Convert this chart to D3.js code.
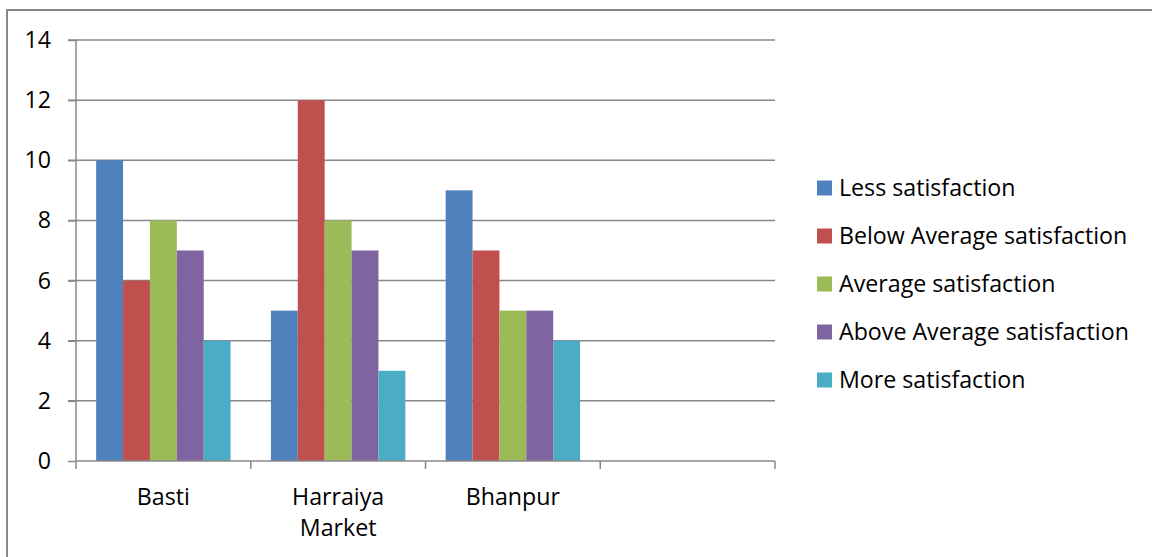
<html lang="en">
  <head>
    <meta charset="UTF-8">
    <title>Satisfaction by market</title>
    <script src="https://d3js.org/d3.v7.min.js"></script>
    <style>
body, html {
  margin: 0;
  padding: 0;
  width: 100%;
  height: 100%;
  overflow: hidden;
  background: white;
}
    svg {
      display: block;
      font-family: "Open Sans", sans-serif;
    }
    </style>
  </head>
  <body>
    <svg width="1152" height="557"></svg>

    <script>
      // categories, the 4th slot is empty in the original
      const categories = ["Basti", "Harraiya Market", "Bhanpur", ""];
      const series = [
        "Less satisfaction",
        "Below Average satisfaction",
        "Average satisfaction",
        "Above Average satisfaction",
        "More satisfaction"
      ];
      const colors = ["#4F81BD", "#C0504D", "#9BBB59", "#8064A2", "#4BACC6"];
      const lessVals = [10, 5, 9];
      const belowAvgVals = [6, 12, 7];
      const avgVals = [8, 8, 5];
      const aboveAvgVals = [7, 7, 5];
      const moreVals = [4, 3, 4];
      const yTicks = [0, 2, 4, 6, 8, 10, 12, 14];

      const allVals = [lessVals, belowAvgVals, avgVals, aboveAvgVals, moreVals];
      const rows = categories.slice(0, 3).flatMap((c, i) =>
        series.map((s, j) => ({ cat: c, series: s, value: allVals[j][i], color: colors[j] }))
      );

      const svg = d3.select("svg");
      const fontSize = 23.2;
      const gridColor = "#888";

      // outer frame
      svg.append("rect")
        .attr("x", 7).attr("y", 10)
        .attr("width", 1300).attr("height", 700)
        .attr("fill", "none")
        .attr("stroke", gridColor)
        .attr("stroke-width", 2);

      const plotL = 76, plotR = 775, plotT = 40, plotB = 461;

      const x0 = d3.scaleBand().domain(categories).range([plotL, plotR]);
      const x1 = d3.scaleBand().domain(series).range([0, x0.bandwidth()]).paddingOuter(0.75);
      const y = d3.scaleLinear().domain([0, 14]).range([plotB, plotT]);

      // gridlines
      svg.append("g")
        .selectAll("line")
        .data(yTicks.filter(d => d > 0))
        .join("line")
        .attr("x1", plotL - 8).attr("x2", plotR)
        .attr("y1", d => y(d)).attr("y2", d => y(d))
        .attr("stroke", gridColor)
        .attr("stroke-width", 1.5);

      // bars
      svg.append("g")
        .selectAll("rect")
        .data(rows)
        .join("rect")
        .attr("x", d => x0(d.cat) + x1(d.series))
        .attr("width", x1.bandwidth())
        .attr("y", d => y(d.value))
        .attr("height", d => y(0) - y(d.value))
        .attr("fill", d => d.color);

      // y axis
      const yAxis = svg.append("g")
        .attr("transform", `translate(${plotL},0)`)
        .call(d3.axisLeft(y).tickValues(yTicks).tickSize(8).tickPadding(17));
      yAxis.attr("font-family", null).attr("font-size", null);
      yAxis.select(".domain").attr("stroke", gridColor).attr("stroke-width", 1.5).attr("d", `M0,${plotT}V${plotB}`);
      yAxis.selectAll(".tick line").attr("stroke", gridColor).attr("stroke-width", 1.5);
      yAxis.selectAll("text").attr("font-size", fontSize).attr("fill", "#000");

      // x axis
      const xAxis = svg.append("g")
        .attr("transform", `translate(0,${plotB})`)
        .call(d3.axisBottom(x0).tickSize(0).tickFormat(""));
      xAxis.select(".domain").attr("stroke", gridColor).attr("stroke-width", 1.5).attr("d", `M${plotL},0H${plotR}`);
      xAxis.selectAll(".tick").remove();

      // boundary ticks between categories
      const bounds = categories.map(c => x0(c)).concat([plotR]);
      xAxis.append("g")
        .selectAll("line")
        .data(bounds)
        .join("line")
        .attr("x1", d => d).attr("x2", d => d)
        .attr("y1", 0).attr("y2", 8)
        .attr("stroke", gridColor)
        .attr("stroke-width", 1.5);

      // category labels (wrap two-word names like Excel)
      const labels = svg.append("g")
        .selectAll("text")
        .data(categories.filter(c => c))
        .join("text")
        .attr("x", d => x0(d) + x0.bandwidth() / 2)
        .attr("y", 505)
        .attr("text-anchor", "middle")
        .attr("font-size", fontSize)
        .attr("fill", "#000");
      labels.each(function (d) {
        const words = d.split(" ");
        d3.select(this).selectAll("tspan")
          .data(words)
          .join("tspan")
          .attr("x", x0(d) + x0.bandwidth() / 2)
          .attr("dy", (w, i) => i === 0 ? 0 : 31)
          .text(w => w);
      });

      // legend
      const legend = svg.append("g")
        .selectAll("g")
        .data(series)
        .join("g")
        .attr("transform", (d, i) => `translate(817,${188 + i * 48})`);
      legend.append("rect")
        .attr("x", 0).attr("y", -7.5)
        .attr("width", 15).attr("height", 15)
        .attr("fill", (d, i) => colors[i]);
      legend.append("text")
        .attr("x", 22).attr("y", 0)
        .attr("dy", "0.35em")
        .attr("font-size", fontSize)
        .attr("fill", "#000")
        .text(d => d);
    </script>
  </body>
</html>
